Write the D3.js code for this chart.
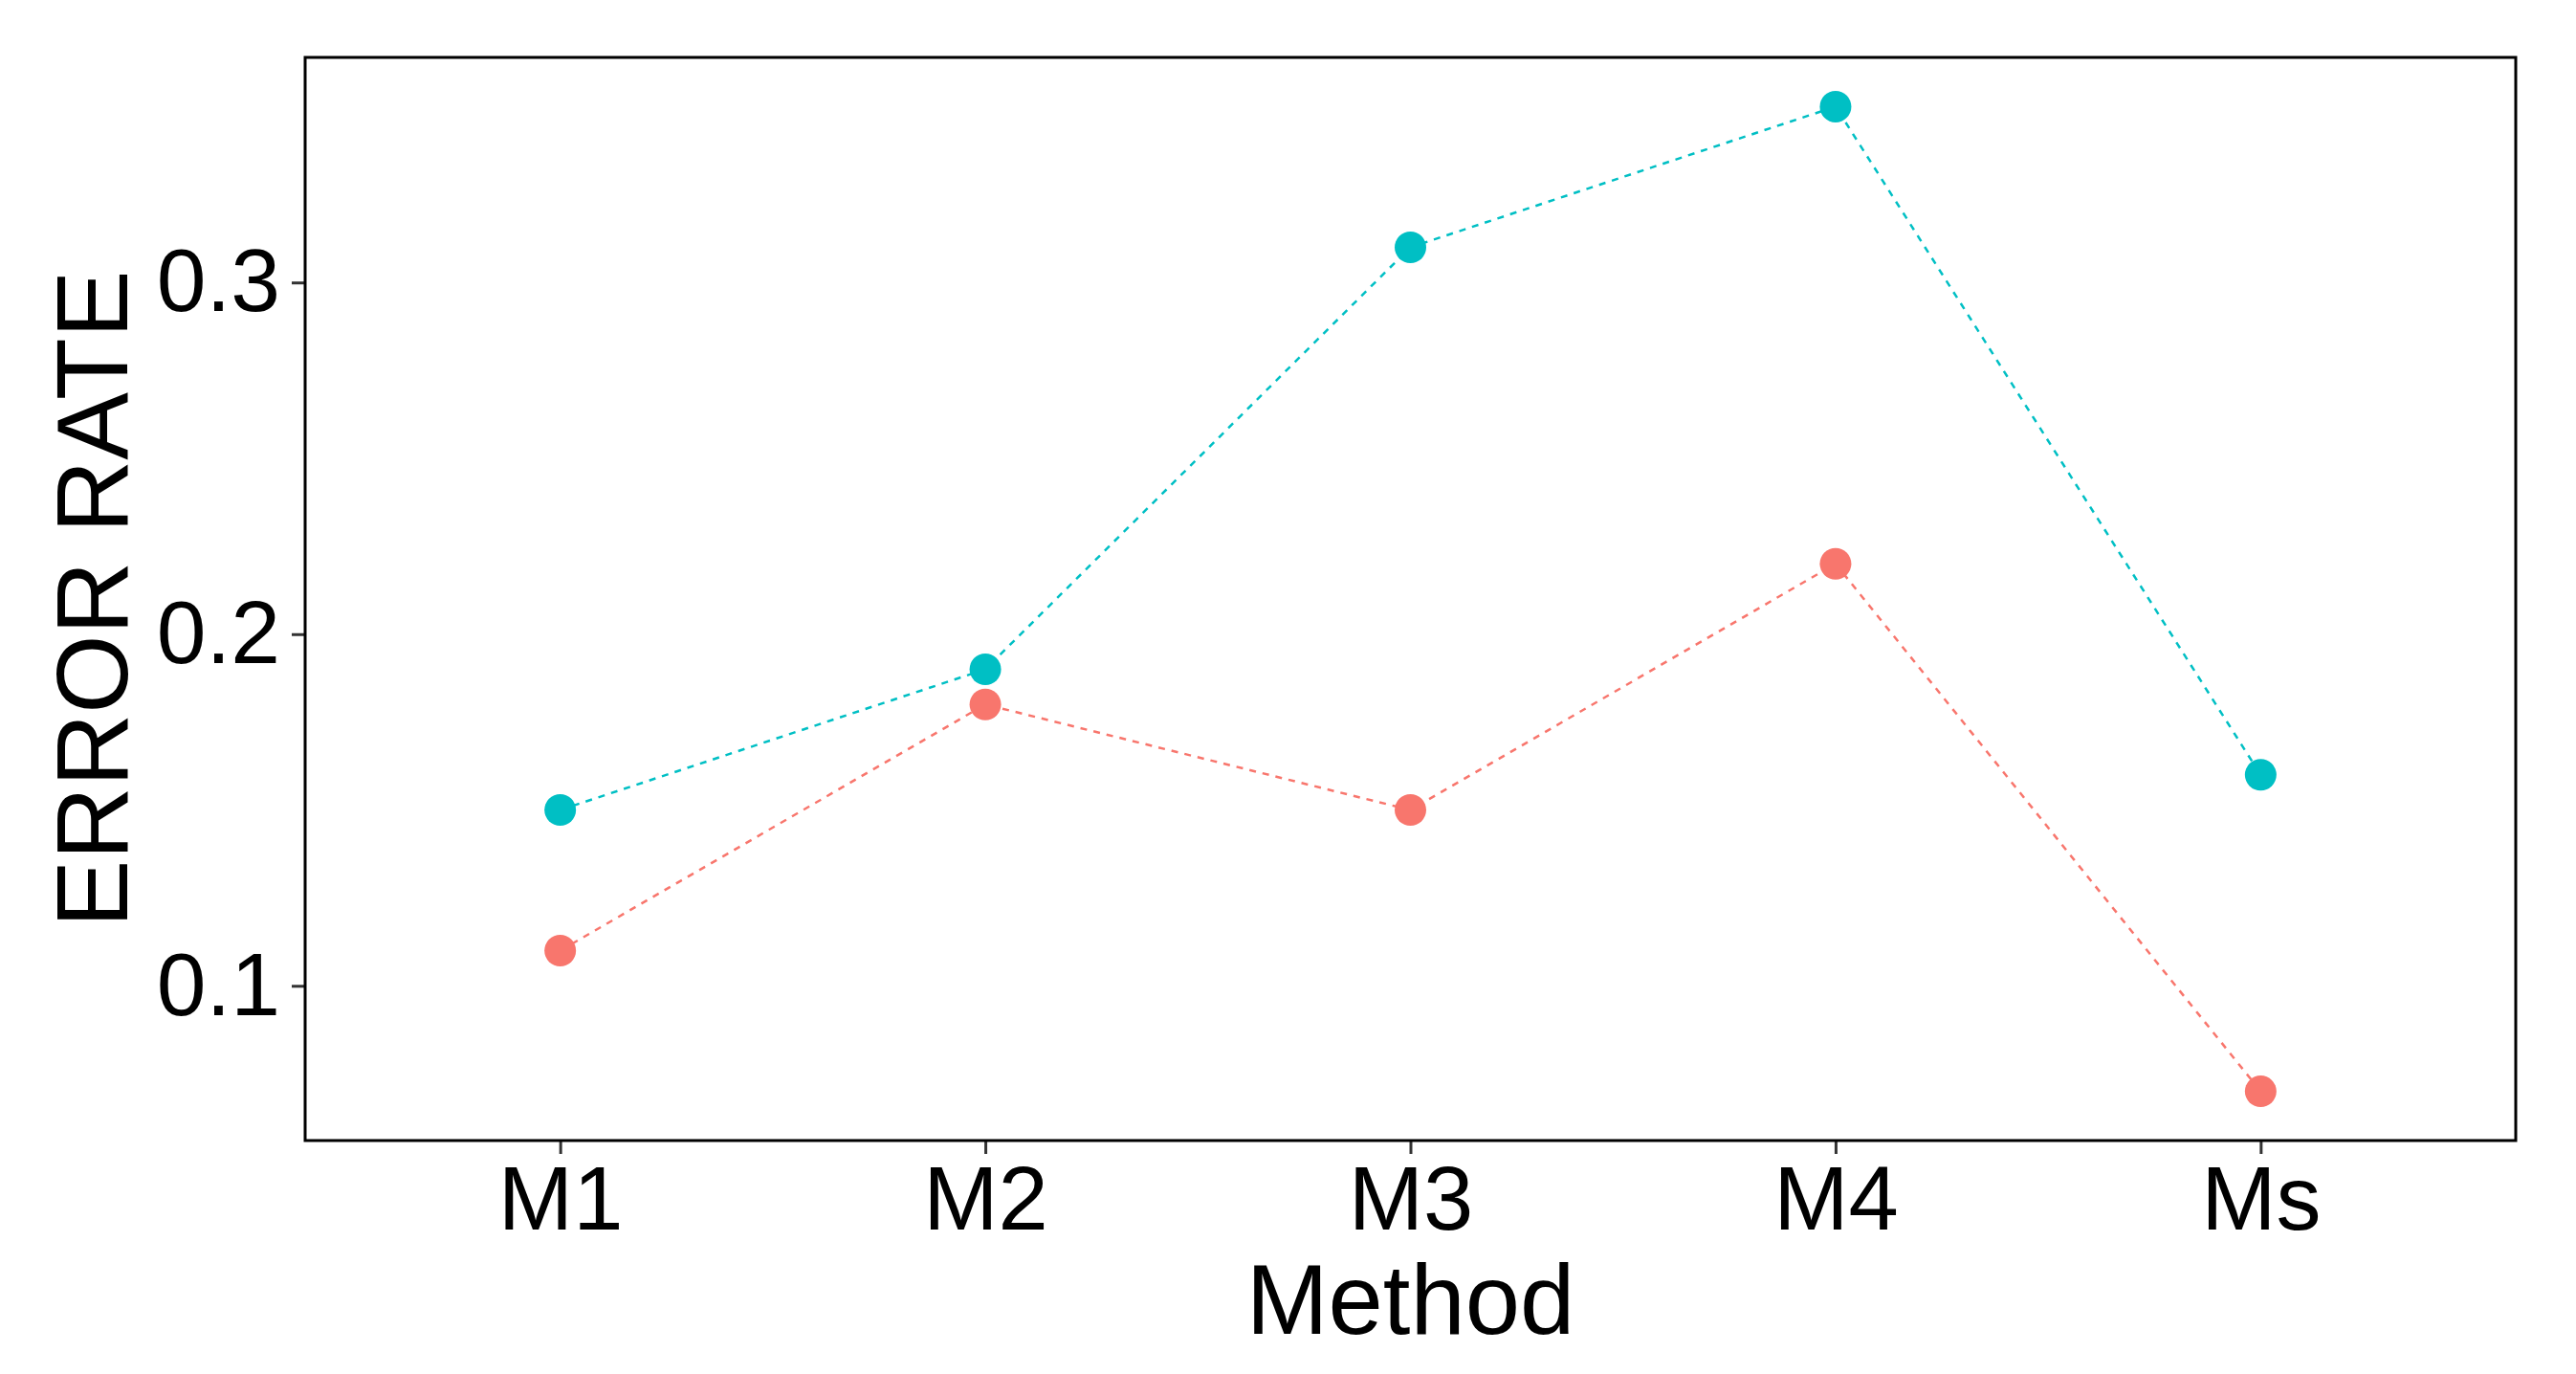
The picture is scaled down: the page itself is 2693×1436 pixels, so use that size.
<!DOCTYPE html>
<html>
<head>
<meta charset="utf-8">
<script src="https://cdn.jsdelivr.net/npm/d3@7"></script>
<style>
  body { margin: 0; background: #fff; }
  text { font-family: "Liberation Sans", Arial, sans-serif; fill: #000; }
</style>
</head>
<body>
<div id="chart"></div>
<script>
var methods = ["M1", "M2", "M3", "M4", "Ms"];
var errorA = [0.15, 0.19, 0.31, 0.35, 0.16];   // cyan series
var errorB = [0.11, 0.18, 0.15, 0.22, 0.07];   // red series
var yTicks = [0.1, 0.2, 0.3];

var svgWidth = 2693;
var svgHeight = 1436;
var margin = { top: 60, right: 63, bottom: 244, left: 319 };
var width = svgWidth - margin.left - margin.right;
var height = svgHeight - margin.top - margin.bottom;

var svg = d3.select("#chart")
  .append("svg")
  .attr("width", svgWidth)
  .attr("height", svgHeight);

var chartGroup = svg.append("g")
  .attr("transform", `translate(${margin.left}, ${margin.top})`);

// ggplot style expansion: 0.6 units on discrete x, 5% on continuous y
var xScale = d3.scalePoint()
  .domain(methods)
  .range([0, width])
  .padding(0.6);

var allValues = errorA.concat(errorB);
var yMin = d3.min(allValues), yMax = d3.max(allValues);
var pad = (yMax - yMin) * 0.05;
var yScale = d3.scaleLinear()
  .domain([yMin - pad, yMax + pad])
  .range([height, 0]);

// axes
var bottomAxis = d3.axisBottom(xScale).tickSize(14).tickPadding(12);
var leftAxis = d3.axisLeft(yScale).tickValues(yTicks).tickSize(14).tickPadding(12)
  .tickFormat(d3.format(".1f"));

var xAxisG = chartGroup.append("g")
  .attr("transform", `translate(0, ${height})`)
  .call(bottomAxis);
xAxisG.selectAll("text").style("font-size", "94px").attr("dy", "0.71em");

var yAxisG = chartGroup.append("g").call(leftAxis);
yAxisG.selectAll("text").style("font-size", "93px");

[xAxisG, yAxisG].forEach(function(g) {
  g.select(".domain").remove();
  g.selectAll(".tick line").attr("stroke", "#333").attr("stroke-width", 3);
});

// panel border
chartGroup.append("rect")
  .attr("width", width)
  .attr("height", height)
  .attr("fill", "none")
  .attr("stroke", "#000")
  .attr("stroke-width", 3);

// lines + points
var series = [
  { values: errorB, color: "#F8766D" },
  { values: errorA, color: "#00BFC4" }
];

var line = d3.line()
  .x((d, i) => xScale(methods[i]))
  .y(d => yScale(d));

series.forEach(function(s) {
  chartGroup.append("path")
    .datum(s.values)
    .attr("d", line)
    .attr("fill", "none")
    .attr("stroke", s.color)
    .attr("stroke-width", 2.5)
    .attr("stroke-dasharray", "7,7");

  chartGroup.selectAll(null)
    .data(s.values)
    .enter()
    .append("circle")
    .attr("cx", (d, i) => xScale(methods[i]))
    .attr("cy", d => yScale(d))
    .attr("r", 16.5)
    .attr("fill", s.color);
});

// axis titles
svg.append("text")
  .attr("x", margin.left + width / 2)
  .attr("y", 1394)
  .attr("text-anchor", "middle")
  .style("font-size", "103px")
  .text("Method");

svg.append("text")
  .attr("transform", `translate(133, ${margin.top + height / 2}) rotate(-90)`)
  .attr("text-anchor", "middle")
  .style("font-size", "106px")
  .text("ERROR RATE");
</script>
</body>
</html>
